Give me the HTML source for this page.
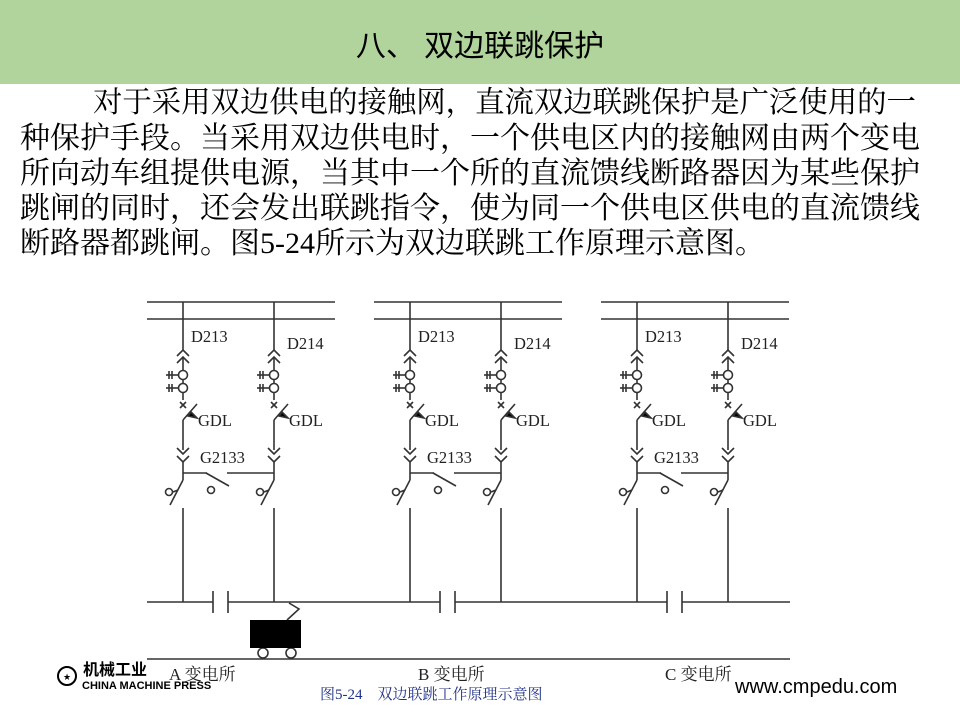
<!DOCTYPE html>
<html><head><meta charset="utf-8"><style>
html,body{margin:0;padding:0;background:#fff;}
body{width:960px;height:718px;position:relative;overflow:hidden;font-family:"Liberation Serif","Noto Serif CJK SC",serif;}
.hdr{position:absolute;left:0;top:0;width:960px;height:84px;background:#b0d49c;}
.title{position:absolute;left:0;width:960px;top:27px;text-align:center;font-size:30px;line-height:40px;font-family:"Liberation Sans","Noto Sans CJK SC",sans-serif;color:#000;}
.ln{position:absolute;left:20px;font-size:30px;line-height:35px;white-space:nowrap;color:#000;font-family:"Liberation Serif","Noto Serif CJK SC",serif;}
svg{position:absolute;left:0;top:0;}
</style></head><body>
<div class="hdr"></div>
<div class="title">八、 双边联跳保护</div>
<div class="ln" style="top:86px;left:93px;font-size:29.4px">对于采用双边供电的接触网，直流双边联跳保护是广泛使用的一</div>
<div class="ln" style="top:121px">种保护手段。当采用双边供电时，一个供电区内的接触网由两个变电</div>
<div class="ln" style="top:156px">所向动车组提供电源，当其中一个所的直流馈线断路器因为某些保护</div>
<div class="ln" style="top:191px">跳闸的同时，还会发出联跳指令，使为同一个供电区供电的直流馈线</div>
<div class="ln" style="top:226px">断路器都跳闸。图5-24所示为双边联跳工作原理示意图。</div>
<svg width="960" height="718" viewBox="0 0 960 718">
<defs>
<g id="br" stroke="#333" stroke-width="1.6" fill="none">
<line x1="0" y1="302" x2="0" y2="350"/>
<polyline points="-6,356 0,350 6,356"/>
<polyline points="-6,363 0,357 6,363"/>
<line x1="0" y1="357" x2="0" y2="400"/>
<circle cx="0" cy="375" r="4.5" fill="#fff"/>
<circle cx="0" cy="388" r="4.5" fill="#fff"/>
<line x1="-17" y1="375" x2="-4.5" y2="375"/><line x1="-14" y1="371" x2="-14" y2="379"/><line x1="-11" y1="371" x2="-11" y2="379"/>
<line x1="-17" y1="388" x2="-4.5" y2="388"/><line x1="-14" y1="384" x2="-14" y2="392"/><line x1="-11" y1="384" x2="-11" y2="392"/>
<line x1="-3" y1="402" x2="3" y2="408"/><line x1="3" y1="402" x2="-3" y2="408"/>
<line x1="0" y1="420" x2="14" y2="404"/>
<line x1="0" y1="420" x2="0" y2="450"/>
<polygon points="8,412 14,418 5,416" fill="#000"/>
<polyline points="-6,448 0,454 6,448"/>
<polyline points="-6,456 0,462 6,456"/>
<line x1="0" y1="462" x2="0" y2="480"/>
<line x1="0" y1="480" x2="-13" y2="505"/>
<circle cx="-14" cy="492" r="3.5" fill="#fff"/>
<line x1="-10" y1="492" x2="-5" y2="490"/>
<line x1="0" y1="508" x2="0" y2="602"/>
</g>
<g id="st">
<line x1="147" y1="302" x2="335" y2="302" stroke="#333" stroke-width="1.6"/>
<line x1="147" y1="319" x2="335" y2="319" stroke="#333" stroke-width="1.6"/>
<use href="#br" x="183"/>
<use href="#br" x="274"/>
<g stroke="#333" stroke-width="1.6" fill="none">
<line x1="183" y1="473" x2="207" y2="473"/>
<line x1="206" y1="473" x2="229" y2="486"/>
<circle cx="211" cy="490" r="3.5" fill="#fff"/>
<line x1="227" y1="473" x2="274" y2="473"/>
</g>
<g font-family="Liberation Serif,serif" font-size="16.5" fill="#222">
<text x="191" y="342">D213</text>
<text x="287" y="349">D214</text>
<text x="198" y="426">GDL</text>
<text x="289" y="426">GDL</text>
<text x="200" y="463">G2133</text>
</g>
</g>
</defs>
<use href="#st"/>
<use href="#st" x="227"/>
<use href="#st" x="454"/>
<g stroke="#333" stroke-width="1.6" fill="none">
<line x1="147" y1="602" x2="213" y2="602"/><line x1="228" y1="602" x2="440" y2="602"/><line x1="455" y1="602" x2="667" y2="602"/><line x1="682" y1="602" x2="790" y2="602"/>
<line x1="213" y1="591" x2="213" y2="613"/><line x1="228" y1="591" x2="228" y2="613"/>
<line x1="440" y1="591" x2="440" y2="613"/><line x1="455" y1="591" x2="455" y2="613"/>
<line x1="667" y1="591" x2="667" y2="613"/><line x1="682" y1="591" x2="682" y2="613"/>
<line x1="147" y1="659" x2="790" y2="659"/>
<polyline points="287,620 299,609 289,603"/>
<circle cx="263" cy="653" r="5" fill="#fff"/><circle cx="291" cy="653" r="5" fill="#fff"/>
</g>
<rect x="250" y="620" width="51" height="28" fill="#000"/>
<g font-family="Liberation Serif,Noto Serif CJK SC,serif" font-size="17" fill="#222">
<text x="169" y="680">A 变电所</text>
<text x="418" y="680">B 变电所</text>
<text x="665" y="680">C 变电所</text>
</g>
<text x="320" y="699" font-family="Liberation Serif,Noto Serif CJK SC,serif" font-size="15" fill="#223388">图5-24　双边联跳工作原理示意图</text>
<text x="735" y="693" font-family="Liberation Sans,sans-serif" font-size="20" fill="#000">www.cmpedu.com</text>
<circle cx="67" cy="676" r="9" fill="none" stroke="#000" stroke-width="2"/>
<text x="63" y="680" font-size="9" font-family="Liberation Sans,sans-serif">★</text>
<text x="83" y="675" font-family="Liberation Sans,Noto Sans CJK SC,sans-serif" font-size="16" font-weight="bold" fill="#000">机械工业</text>
<text x="82" y="689" font-family="Liberation Sans,sans-serif" font-size="11" font-weight="bold" fill="#000">CHINA MACHINE PRESS</text>
</svg>
</body></html>
